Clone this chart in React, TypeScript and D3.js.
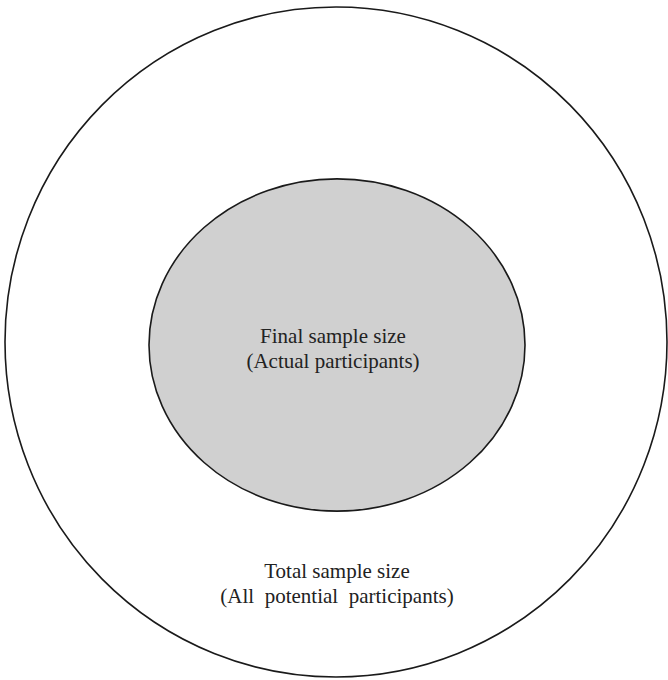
import React, { useEffect, useRef } from "react";
import * as d3 from "d3";

// Nested sample-size diagram
const levels = ["Total sample size", "Final sample size"];
const subLabels = ["(All  potential  participants)", "(Actual participants)"];
// relative radii (outer = 1)
const relRx = [1, 0.568];
const relRy = [1, 0.496];
const fills = ["#ffffff", "#d0d0d0"];

const W = 668;
const H = 680;

export default function App() {
  const ref = useRef<SVGSVGElement>(null);
  useEffect(() => {
    const svg = d3.select(ref.current);
    svg.selectAll("*").remove();
    const cx = 336, cy = 342;
    const sx = d3.scaleLinear().domain([0, 1]).range([0, 331]);
    const sy = d3.scaleLinear().domain([0, 1]).range([0, 335]);
    const centers = [
      { x: cx, y: cy },
      { x: 337, y: 345 },
    ];
    svg
      .selectAll("ellipse")
      .data(levels)
      .join("ellipse")
      .attr("cx", (_, i) => centers[i].x)
      .attr("cy", (_, i) => centers[i].y)
      .attr("rx", (_, i) => sx(relRx[i]))
      .attr("ry", (_, i) => sy(relRy[i]))
      .attr("fill", (_, i) => fills[i])
      .attr("stroke", "#1a1a1a")
      .attr("stroke-width", 1.6);

    const textPos = [
      { x: 337, y: 578 },
      { x: 333, y: 343 },
    ];
    const g = svg.append("g")
      .attr("font-family", "'Liberation Serif', 'Times New Roman', serif")
      .attr("font-size", 21)
      .attr("fill", "#222")
      .attr("text-anchor", "middle");
    levels.forEach((l, i) => {
      g.append("text").attr("x", textPos[i].x).attr("y", textPos[i].y).text(l);
      g.append("text")
        .attr("x", textPos[i].x)
        .attr("y", textPos[i].y + 25)
        .attr("xml:space", "preserve")
        .style("white-space", "pre")
        .text(subLabels[i]);
    });
  }, []);
  return (
    <svg
      ref={ref}
      width={W}
      height={H}
      style={{ position: "absolute", left: 0, top: 0, background: "#fff" }}
    />
  );
}
